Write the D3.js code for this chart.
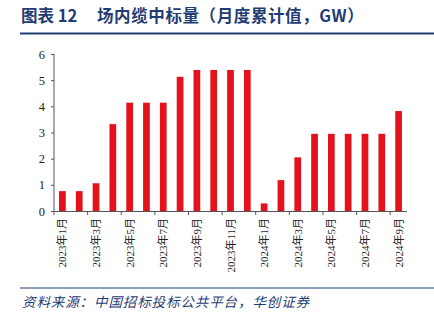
<!DOCTYPE html>
<html><head><meta charset="utf-8">
<script src="https://cdn.jsdelivr.net/npm/d3@7"></script>
<style>body{margin:0;background:#fff}svg{display:block}</style>
</head><body><svg id="c" width="434" height="326"></svg>
<script>
const categories = ["2023年1月","2023年2月","2023年3月","2023年4月","2023年5月","2023年6月","2023年7月","2023年8月","2023年9月","2023年10月","2023年11月","2023年12月","2024年1月","2024年2月","2024年3月","2024年4月","2024年5月","2024年6月","2024年7月","2024年8月","2024年9月"];
const values = [0.76,0.76,1.06,3.32,4.14,4.14,4.14,5.13,5.39,5.39,5.39,5.39,0.29,1.18,2.05,2.95,2.95,2.95,2.95,2.95,3.82];
const yTicks = [0,1,2,3,4,5,6];
const titleLabel = "图表 12";
const titleText = "场内缆中标量（月度累计值，GW）";
const source = "资料来源：中国招标投标公共平台，华创证券";

const svg = d3.select("#c");
const blue = "#1F3C73";
const serif = "'Liberation Serif','Times New Roman','Noto Sans CJK SC',serif";
const cjk = "'Noto Sans CJK SC',sans-serif";

svg.append("text").attr("x",21).attr("y",22).attr("fill",blue)
  .attr("font-family",cjk).attr("font-weight","bold").attr("font-size",16.5)
  .text(titleLabel);
svg.append("text").attr("x",97).attr("y",22).attr("fill",blue)
  .attr("font-family",cjk).attr("font-weight","bold").attr("font-size",16.5).attr("letter-spacing",0.6)
  .text(titleText);
svg.append("line").attr("x1",20).attr("x2",434).attr("y1",33.5).attr("y2",33.5).attr("stroke",blue).attr("stroke-width",1.8);

const x = d3.scaleBand().domain(categories).range([54,407]).paddingInner(0.6).paddingOuter(0.3);
const y = d3.scaleLinear().domain([0,6]).range([211,54]);

svg.append("g").selectAll("rect").data(values).join("rect")
  .attr("x",(d,i)=>x(categories[i])).attr("width",x.bandwidth())
  .attr("y",d=>y(d)).attr("height",d=>y(0)-y(d)).attr("fill","#E3121D");

// y axis
const ya = svg.append("g").attr("transform","translate(54,0)")
  .call(d3.axisLeft(y).tickValues(yTicks).tickSize(3).tickPadding(6).tickFormat(d3.format("d")));
ya.selectAll("path,line").attr("stroke","#555");
ya.select(".domain").attr("d","M0,54V211");
ya.selectAll("text").attr("font-family",serif).attr("font-size",12.5).attr("fill","#222");

// x axis (ticks every two categories, on category boundaries)
const x0 = 54, x1 = 407;
const bound = d3.scaleLinear().domain([0,categories.length]).range([x0,x1]);
svg.append("line").attr("x1",x0).attr("x2",x1).attr("y1",211.5).attr("y2",211.5).attr("stroke","#555");
const tickIdx = d3.range(0, categories.length+1, 2);
svg.append("g").selectAll("line").data(tickIdx).join("line")
  .attr("x1",i=>bound(i)).attr("x2",i=>bound(i))
  .attr("y1",211.5).attr("y2",215).attr("stroke","#555");

svg.append("g").selectAll("text").data(categories.filter((d,i)=>i%2===0)).join("text")
  .attr("transform",d=>`translate(${x(d)+x.bandwidth()/2+4},218) rotate(-90)`)
  .attr("text-anchor","end").attr("font-family",serif).attr("font-size",11).attr("fill","#222")
  .text(d=>d);

svg.append("line").attr("x1",20).attr("x2",434).attr("y1",288).attr("y2",288).attr("stroke",blue).attr("stroke-width",1.2);
svg.append("text").attr("x",22).attr("y",307).attr("fill",blue)
  .attr("font-family",cjk).attr("font-style","italic").attr("font-size",13.5).attr("letter-spacing",0.9)
  .text(source);
</script></body></html>
